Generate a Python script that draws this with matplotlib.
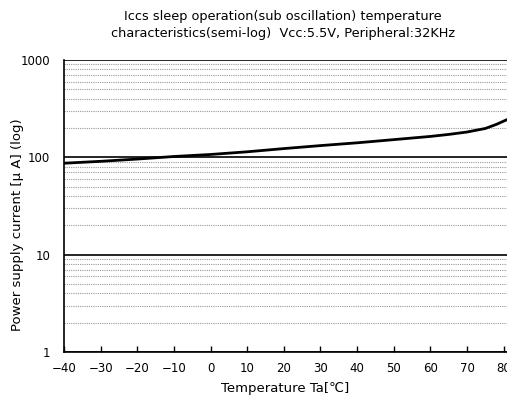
import matplotlib
matplotlib.use("Agg")
import matplotlib.pyplot as plt
from matplotlib.ticker import FixedLocator, NullFormatter

plt.rcParams['font.family'] = ['DejaVu Sans', 'Noto Sans CJK JP']

# temperature [degC] vs supply current [uA]
temps = [-40, -30, -20, -10, 0, 10, 20, 30, 40, 50, 60, 65, 70, 75, 78, 81]
current = [87, 91, 96, 102, 107, 114, 123, 132, 141, 152, 164, 172, 182, 198, 218, 245]
xticks = [-40, -30, -20, -10, 0, 10, 20, 30, 40, 50, 60, 70, 80]
yticks = [1, 10, 100, 1000]
ytick_labels = ["1", "10", "100", "1000"]

fig = plt.figure(figsize=(5.07, 4.03), dpi=100)
ax = fig.add_axes([64 / 507, 1 - 352 / 403, 1 - 64 / 507, (352 - 60) / 403])

ax.plot(temps, current, color="black", linewidth=2.0, solid_capstyle="butt")

ax.set_yscale("log")
ax.set_ylim(1, 1000)
ax.set_xlim(-40, 80.9)

ax.yaxis.set_major_locator(FixedLocator(yticks))
ax.set_yticklabels(ytick_labels)
minors = [m * d for d in (1, 10, 100) for m in range(2, 10)]
ax.yaxis.set_minor_locator(FixedLocator(minors))
ax.yaxis.set_minor_formatter(NullFormatter())
ax.grid(True, which="major", axis="y", color="black", linewidth=1.2)
ax.grid(True, which="minor", axis="y", color="#999999", linewidth=0.8, linestyle=(0, (1, 1)))
ax.set_axisbelow(True)

ax.set_xticks(xticks)
ax.tick_params(axis="x", direction="in", length=4, width=1, labelsize=8.5, pad=7)
ax.tick_params(axis="y", which="both", length=0, labelsize=8.5, pad=10)

for s in ("top", "right"):
    ax.spines[s].set_visible(False)
ax.spines["left"].set_linewidth(1.2)
ax.spines["bottom"].set_linewidth(1.2)

ax.set_xlabel("Temperature Ta[℃]", fontsize=9.5, labelpad=5)
fig.text(18 / 507, 1 - 225 / 403, "Power supply current [μ A] (log)",
         rotation=90, ha="center", va="center", fontsize=9.5)
fig.text(283 / 507, 1 - 25 / 403,
         "Iccs sleep operation(sub oscillation) temperature\n"
         "characteristics(semi-log)  Vcc:5.5V, Peripheral:32KHz",
         ha="center", va="center", fontsize=9.3, linespacing=1.35)

fig.savefig("out.png", dpi=100)
